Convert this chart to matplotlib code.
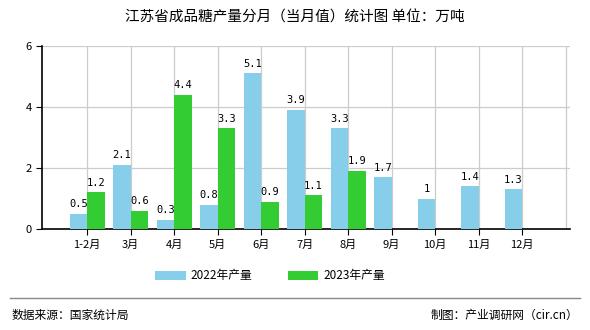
import matplotlib.pyplot as plt
import numpy as np

plt.rcParams['font.family'] = ['Noto Sans CJK SC', 'DejaVu Sans']

months = ['1-2月', '3月', '4月', '5月', '6月', '7月', '8月', '9月', '10月', '11月', '12月']
v2022 = [0.5, 2.1, 0.3, 0.8, 5.1, 3.9, 3.3, 1.7, 1, 1.4, 1.3]
v2023 = [1.2, 0.6, 4.4, 3.3, 0.9, 1.1, 1.9]
lab2022 = ['0.5', '2.1', '0.3', '0.8', '5.1', '3.9', '3.3', '1.7', '1', '1.4', '1.3']
lab2023 = ['1.2', '0.6', '4.4', '3.3', '0.9', '1.1', '1.9']

c2022 = '#87CEEB'
c2023 = '#33CC33'
w = 0.4

fig = plt.figure(figsize=(5.9, 3.3), dpi=100)
ax = fig.add_axes([42/590, 1 - 229/330, (570-42)/590, (229-46)/330])

x = np.arange(len(months))
x3 = np.arange(len(v2023))
b1 = ax.bar(x - w/2, v2022, w, color=c2022, label='2022年产量', zorder=3)
b2 = ax.bar(x3 + w/2, v2023, w, color=c2023, label='2023年产量', zorder=3)

for xi, v, t in zip(x - w/2, v2022, lab2022):
    ax.text(xi, v + 0.15, t, ha='center', va='bottom', fontsize=7.5,
            family='DejaVu Sans Mono', zorder=4)
for xi, v, t in zip(x3 + w/2, v2023, lab2023):
    ax.text(xi, v + 0.15, t, ha='center', va='bottom', fontsize=7.5,
            family='DejaVu Sans Mono', zorder=4)

ax.set_xlim(-1.04, 11.1)
ax.set_ylim(0, 6)
ax.set_yticks([0, 2, 4, 6])
ax.set_xticks(x)
ax.set_xticklabels(months, fontsize=8)
ax.tick_params(axis='y', labelsize=8, length=4)
ax.tick_params(axis='x', length=4)

# grid: horizontal at y ticks, vertical at category centres and right edge
for yv in [2, 4, 6]:
    ax.axhline(yv, color='#cccccc', lw=0.9, zorder=0)
for xv in list(x) + [11]:
    ax.axvline(xv, color='#cccccc', lw=0.9, zorder=0)

for s in ['top', 'right']:
    ax.spines[s].set_visible(False)
ax.spines['left'].set_linewidth(1.2)
ax.spines['bottom'].set_linewidth(1.2)

fig.text(0.5, 1 - 18/330, '江苏省成品糖产量分月（当月值）统计图 单位：万吨',
         ha='center', va='center', fontsize=10.5)

fig.legend(handles=[b1, b2], loc='center', bbox_to_anchor=(270/590, 1 - 276/330),
           ncol=2, frameon=False, fontsize=8.5, handlelength=2.6, handleheight=0.9,
           columnspacing=3, handletextpad=0.4)

fig.add_artist(plt.Line2D([10/590, 580/590], [1 - 298/330, 1 - 298/330],
                          color='#888888', lw=1))
fig.text(12/590, 1 - 315/330, '数据来源：国家统计局', ha='left', va='center', fontsize=8.5)
fig.text(578/590, 1 - 315/330, '制图：产业调研网（cir.cn）', ha='right', va='center', fontsize=8.5)

fig.savefig('out.png', dpi=100)
